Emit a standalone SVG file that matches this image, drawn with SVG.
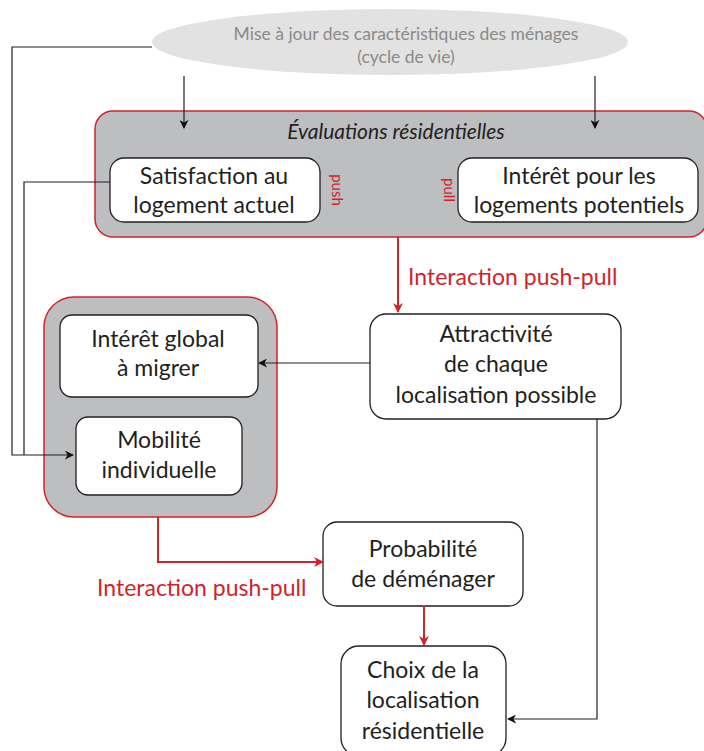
<svg xmlns="http://www.w3.org/2000/svg" width="704" height="751" viewBox="0 0 704 751">
<defs>
<marker id="ab" viewBox="0 0 10 10" refX="9" refY="5" markerWidth="9" markerHeight="9" markerUnits="userSpaceOnUse" orient="auto"><path d="M0,0 L10,5 L0,10 L3,5 Z" fill="#111"/></marker>
<marker id="ar" viewBox="0 0 10 10" refX="9" refY="5" markerWidth="10" markerHeight="10" markerUnits="userSpaceOnUse" orient="auto"><path d="M0,0 L10,5 L0,10 L3,5 Z" fill="#d2232a"/></marker>
<style>
.t{font-family:Lato,"Open Sans","Liberation Sans",sans-serif;font-size:23px;fill:#231f20;text-anchor:middle}
.r{font-family:Lato,"Open Sans","Liberation Sans",sans-serif;font-size:23px;fill:#d2232a}
.s{font-family:Lato,"Open Sans","Liberation Sans",sans-serif;font-size:15px;fill:#d2232a;text-anchor:middle}
.box{fill:#fff;stroke:#231f20;stroke-width:1.3}
.grp{fill:#bcbec0;stroke:#d2232a;stroke-width:1.5}
.k{fill:none;stroke:#231f20;stroke-width:1.2}
.rd{fill:none;stroke:#d2232a;stroke-width:2}
</style>
</defs>
<rect width="704" height="751" fill="#fff"/>
<g id="ellipse-node">
<ellipse cx="390" cy="42" rx="238" ry="33" fill="#e2e2e2"/>
<text x="406" y="40" class="t" style="font-size:17.5px;fill:#8a8a8a">Mise à jour des caractéristiques des ménages</text>
<text x="406" y="63" class="t" style="font-size:17.5px;fill:#8a8a8a">(cycle de vie)</text>
</g>
<g id="evaluations">
<rect class="grp" x="95" y="111" width="612" height="126" rx="18"/>
<text x="396" y="139" class="t" style="font-size:21px;font-style:italic">Évaluations résidentielles</text>
</g>
<g id="satisfaction">
<rect class="box" x="110" y="158" width="210" height="64" rx="14"/>
<text x="214" y="184" class="t">Satisfaction au</text>
<text x="214" y="213" class="t">logement actuel</text>
</g>
<g id="push-label"><text class="s" transform="translate(332,190) rotate(90)">push</text></g>
<g id="pull-label"><text class="s" transform="translate(444,190) rotate(90)">pull</text></g>
<g id="interet-logements">
<rect class="box" x="458" y="158" width="240" height="64" rx="14"/>
<text x="579" y="184" class="t">Intérêt pour les</text>
<text x="579" y="213" class="t">logements potentiels</text>
</g>
<g id="groupe-migration">
<rect class="grp" x="44" y="297" width="233" height="220" rx="30"/>
</g>
<g id="interet-global">
<rect class="box" x="60" y="315" width="198" height="82" rx="12"/>
<text x="158" y="347" class="t">Intérêt global</text>
<text x="158" y="376" class="t">à migrer</text>
</g>
<g id="mobilite">
<rect class="box" x="76" y="417" width="166" height="78" rx="12"/>
<text x="159" y="448" class="t">Mobilité</text>
<text x="159" y="478" class="t">individuelle</text>
</g>
<g id="attractivite">
<rect class="box" x="370" y="314" width="251" height="105" rx="16"/>
<text x="496" y="342" class="t">Attractivité</text>
<text x="496" y="372" class="t">de chaque</text>
<text x="496" y="403" class="t">localisation possible</text>
</g>
<g id="probabilite">
<rect class="box" x="323" y="522" width="200" height="84" rx="14"/>
<text x="423" y="557" class="t">Probabilité</text>
<text x="423" y="587" class="t">de déménager</text>
</g>
<g id="choix">
<rect class="box" x="341" y="646" width="165" height="110" rx="18"/>
<text x="423" y="678" class="t">Choix de la</text>
<text x="423" y="708" class="t">localisation</text>
<text x="423" y="739" class="t">résidentielle</text>
</g>
<g id="connectors">
<path class="k" d="M152,47 H12 V455 H73" marker-end="url(#ab)"/>
<path class="k" d="M110,182 H24 V455"/>
<path class="k" d="M184,76 V128" marker-end="url(#ab)"/>
<path class="k" d="M595,76 V128" marker-end="url(#ab)"/>
<path class="k" d="M370,363 H259" marker-end="url(#ab)"/>
<path class="k" d="M597,419 V719 H508" marker-end="url(#ab)"/>
<path class="rd" d="M398,237 V312" marker-end="url(#ar)"/>
<path class="rd" d="M158,517 V562 H323" marker-end="url(#ar)"/>
<path class="rd" d="M424,606 V645" marker-end="url(#ar)"/>
<text x="408" y="285" class="r">Interaction push-pull</text>
<text x="97" y="596" class="r">Interaction push-pull</text>
</g>
</svg>
